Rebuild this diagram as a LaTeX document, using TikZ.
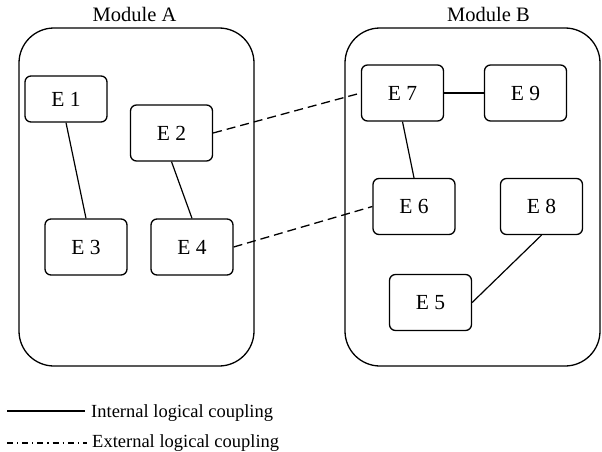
\documentclass[tikz,border=0pt]{standalone}
\usepackage{fontspec}
\setmainfont{Liberation Serif}
\begin{document}
\begin{tikzpicture}[x=1pt,y=-1pt,
  module/.style={draw,line width=1.3pt,rounded corners=35pt},
  ent/.style={draw,line width=1.3pt,rounded corners=6pt,minimum width=82pt,minimum height=56pt,inner sep=0pt,font=\fontsize{21.5}{24}\selectfont},
  modlabel/.style={anchor=base,inner sep=0pt,font=\fontsize{20.5}{24}\selectfont},
  legtext/.style={anchor=base west,inner sep=0pt,font=\fontsize{18.5}{22}\selectfont},
  internal/.style={line width=1.2pt},
  external/.style={line width=1.3pt,dash pattern=on 9pt off 5pt},
  extlegend/.style={line width=1.5pt,dash pattern=on 6pt off 4pt on 1.2pt off 4pt}]
\useasboundingbox (0,0) rectangle (602,452);
% modules
\draw[module] (19,28) rectangle (254,366);
\draw[module] (345,28) rectangle (600,366);
\node[modlabel] (mA) at (134.5,22) {Module A};
\node[modlabel] (mB) at (488.5,22) {Module B};
% entities
\node[ent,minimum height=46pt] (e1) at (66,99) {E 1};
\node[ent] (e2) at (171.5,133) {E 2};
\node[ent] (e3) at (86,247) {E 3};
\node[ent] (e4) at (192,247) {E 4};
\node[ent] (e7) at (402.5,93) {E 7};
\node[ent] (e9) at (525.5,93) {E 9};
\node[ent] (e6) at (414,206.5) {E 6};
\node[ent] (e8) at (541.5,206.5) {E 8};
\node[ent] (e5) at (430.5,302.5) {E 5};
% internal couplings
\draw[internal] (e1.south) -- (e3.north);
\draw[internal] (e2.south) -- (e4.north);
\draw[internal] (e7.south) -- (e6.north);
\draw[internal] (e7.east) -- (e9.west);
\draw[internal] (e8.south) -- (e5.east);
% external couplings
\draw[external] (e2.east) -- (e7.west);
\draw[external] (e4.east) -- (e6.west);
% legend
\coordinate (l1a) at (7,411);
\coordinate (l1b) at (85,411);
\coordinate (l2a) at (7,443);
\coordinate (l2b) at (87,443);
\draw[line width=1.5pt] (l1a) -- (l1b);
\draw[extlegend] (l2a) -- (l2b);
\node[legtext] (t1) at (91,417) {Internal logical coupling};
\node[legtext] (t2) at (92,447) {External logical coupling};
\end{tikzpicture}
\end{document}
